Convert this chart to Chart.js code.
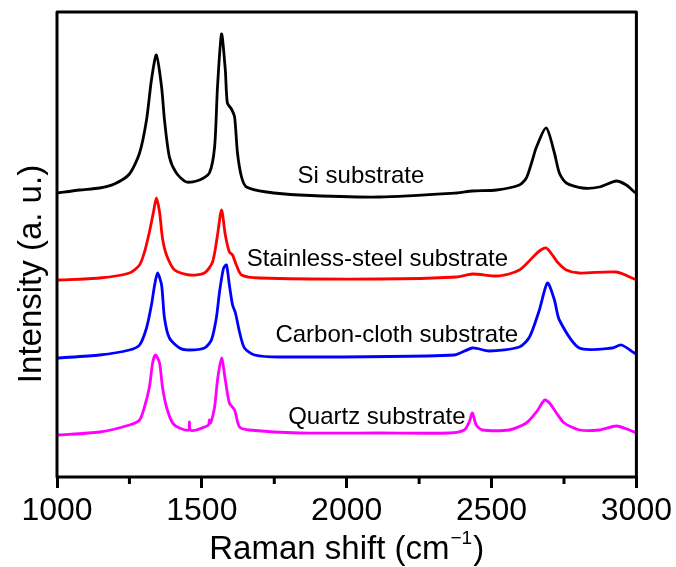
<!DOCTYPE html>
<html>
<head>
<meta charset="utf-8">
<script src="https://cdn.jsdelivr.net/npm/chart.js@4.4.1/dist/chart.umd.min.js"></script>
<style>
html,body{margin:0;padding:0;background:#fff;}
#wrap{width:676px;height:567px;}
</style>
</head>
<body>
<div id="wrap"><canvas id="c" width="676" height="567"></canvas></div>
<script>
// ---- data (Raman shift in cm-1, intensity in arbitrary units incl. vertical offset) ----
const siX = [1000,1078,1147,1198,1250,1285,1309,1326,1343,1361,1371,1388,1412,1447,1492,1526,1544,1554,1568,1581,1588,1602,1613,1623,1637,1654,1723,1837,2113,2379,2434,2517,2596,2620,2638,2655,2689,2717,2734,2758,2814,2872,2931,2965,2993,3000];
const siY = [284,287,289,293,303,324,357,397,422,390,357,320,304,295,297,304,330,390,443,407,374,368,360,324,300,290,285,282,280,284,286,287,292,299,314,330,349,324,304,294,289,290,296,292,285,284];

const steelX = [1000,1147,1250,1285,1302,1319,1333,1343,1354,1364,1378,1406,1457,1509,1537,1554,1568,1581,1595,1606,1619,1637,1699,2113,2379,2434,2517,2560,2596,2620,2650,2670,2689,2710,2727,2758,2803,2931,2993,3000];
const steelY = [197,199,204,212,225,245,265,279,265,239,222,207,202,204,215,242,267,242,225,222,212,202,199,198,200,203,201,203,207,213,222,227,229,222,215,207,204,205,198,197];

const clothX = [1000,1147,1250,1285,1309,1326,1337,1347,1361,1371,1388,1423,1457,1509,1533,1550,1561,1575,1585,1595,1606,1616,1630,1647,1682,1768,2372,2434,2492,2596,2631,2665,2693,2717,2734,2803,2917,2948,2993,3000];
const clothY = [119,122,127,132,149,172,192,204,192,159,139,129,127,129,137,159,185,209,212,192,172,164,145,129,122,120,122,129,126,130,140,167,194,177,157,129,129,132,124,123];

const quartzX = [1000,1147,1250,1285,1302,1319,1330,1340,1354,1364,1378,1399,1423,1454,1457,1460,1481,1509,1523,1526,1530,1544,1554,1568,1581,1595,1613,1630,1664,1837,2113,2355,2406,2423,2434,2447,2468,2561,2620,2655,2683,2700,2724,2751,2803,2872,2931,2976,3000];
const quartzY = [42,45,52,57,70,90,114,122,114,90,70,54,49,47,55,47,47,50,52,57,54,70,97,119,97,74,67,50,47,44,44,44,47,55,64,52,47,47,54,65,77,74,64,54,47,47,51,47,44];

const xTickValues = [1000,1500,2000,2500,3000];
const xMinorTicks = [1250,1750,2250,2750];

const labelTexts = ['Si substrate','Stainless-steel substrate','Carbon-cloth substrate','Quartz substrate'];
const labelX = [2049,2106,2173,2104];
const labelY = [294,211,135,53];

const seriesColors = ['#000000','#ff0000','#0000ff','#ff00ff'];

const FONT = '"Liberation Sans", Arial, Helvetica, sans-serif';

function pts(xs, ys){ return xs.map((x,i)=>({x:x,y:ys[i]})); }

const decor = {
  id:'decor',
  beforeDraw(chart){
    const ctx = chart.ctx;
    ctx.save();
    ctx.fillStyle = '#fff';
    ctx.fillRect(0,0,chart.width,chart.height);
    ctx.restore();
  },
  afterDraw(chart){
    const ctx = chart.ctx;
    const a = chart.chartArea;
    const xs = chart.scales.x, ys = chart.scales.y;
    ctx.save();
    // frame
    ctx.strokeStyle = '#000';
    ctx.lineWidth = 3;
    ctx.lineJoin = 'round';
    ctx.strokeRect(a.left, a.top, a.right - a.left, a.bottom - a.top);
    // minor ticks
    ctx.lineWidth = 3;
    ctx.lineCap = 'butt';
    xMinorTicks.forEach(v=>{
      const px = xs.getPixelForValue(v);
      ctx.beginPath();
      ctx.moveTo(px, a.bottom);
      ctx.lineTo(px, a.bottom + 7);
      ctx.stroke();
    });
    // annotations
    ctx.fillStyle = '#000';
    ctx.font = '24px ' + FONT;
    ctx.textAlign = 'center';
    ctx.textBaseline = 'alphabetic';
    labelTexts.forEach((t,i)=>{
      ctx.fillText(t, xs.getPixelForValue(labelX[i]), ys.getPixelForValue(labelY[i]));
    });
    // x axis title with superscript
    const big = '33px ' + FONT, small = '19px ' + FONT;
    const p1 = 'Raman shift (cm', sup = '\u22121', p3 = ')';
    ctx.font = big; const w1 = ctx.measureText(p1).width, w3 = ctx.measureText(p3).width;
    ctx.font = small; const w2 = ctx.measureText(sup).width;
    const total = w1 + w2 + 2 + w3;
    let x0 = (a.left + a.right)/2 - total/2;
    const base = 559;
    ctx.textAlign = 'left';
    ctx.font = big; ctx.fillText(p1, x0, base);
    ctx.font = small; ctx.fillText(sup, x0 + w1 + 1, base - 15);
    ctx.font = big; ctx.fillText(p3, x0 + w1 + w2 + 2, base);
    // y axis title
    ctx.translate(41, 274);
    ctx.rotate(-Math.PI/2);
    ctx.textAlign = 'center';
    ctx.font = big;
    ctx.fillText('Intensity (a. u.)', 0, 0);
    ctx.restore();
  }
};

const datasets = [
  {label:'Si substrate', data:pts(siX,siY)},
  {label:'Stainless-steel substrate', data:pts(steelX,steelY)},
  {label:'Carbon-cloth substrate', data:pts(clothX,clothY)},
  {label:'Quartz substrate', data:pts(quartzX,quartzY)}
].map((d,i)=>Object.assign(d,{
  borderColor:seriesColors[i], backgroundColor:seriesColors[i],
  borderWidth:2.8, pointRadius:0, fill:false, tension:0.25,
  borderJoinStyle:'round', borderCapStyle:'round'
}));

new Chart(document.getElementById('c'), {
  type:'line',
  data:{datasets},
  options:{
    responsive:false, animation:false, devicePixelRatio:1,
    layout:{padding:{left:57,right:39,top:12,bottom:0}},
    plugins:{legend:{display:false}, tooltip:{enabled:false}},
    scales:{
      x:{
        type:'linear', min:1000, max:3000,
        afterBuildTicks:(s)=>{ s.ticks = xTickValues.map(v=>({value:v})); },
        afterFit:(s)=>{ s.height = 90; },
        ticks:{font:{size:32, family:FONT}, color:'#000', padding:4, maxRotation:0, autoSkip:false,
               callback:(v)=>String(v)},
        grid:{display:true, drawOnChartArea:false, drawTicks:true, tickLength:11, lineWidth:3, color:'#000'},
        border:{display:false}
      },
      y:{ display:false, min:0, max:465 }
    }
  },
  plugins:[decor]
});
</script>
</body>
</html>
